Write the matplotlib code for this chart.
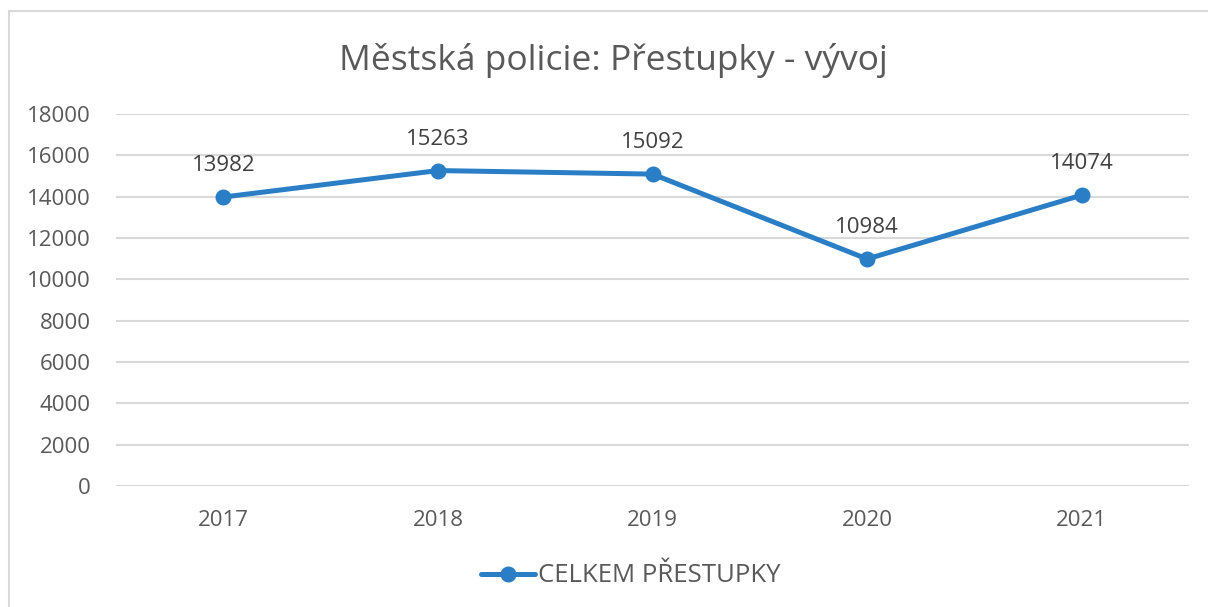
import matplotlib
matplotlib.use("Agg")
import matplotlib.pyplot as plt
from matplotlib.patches import Rectangle
from matplotlib.lines import Line2D

plt.rcParams['font.family'] = ['Open Sans', 'DejaVu Sans']

years = ["2017", "2018", "2019", "2020", "2021"]
prestupky = [13982, 15263, 15092, 10984, 14074]
y_ticks = [0, 2000, 4000, 6000, 8000, 10000, 12000, 14000, 16000, 18000]

title = "Městská policie: Přestupky - vývoj"
series_name = "CELKEM PŘESTUPKY"

line_color = "#2A7EC6"
text_color = "#595959"
grid_color = "#D9D9D9"

W, H = 1208, 607
fig = plt.figure(figsize=(W / 100, H / 100), dpi=100)

# outer chart frame (runs off the right and bottom edges)
fig.patches.append(Rectangle((8.5 / W, -0.1), 1.2, 1 - 10.5 / H + 0.1,
                             transform=fig.transFigure, fill=False,
                             edgecolor="#D9D9D9", linewidth=1.5))

ax = fig.add_axes([116 / W, 1 - 486 / H, (1189 - 116) / W, (486 - 114) / H])
x = list(range(len(years)))
ax.plot(x, prestupky, color=line_color, linewidth=3.6, marker="o",
        markersize=10.5, solid_capstyle="round", zorder=3)

for xi, v in zip(x, prestupky):
    ax.annotate(str(v), (xi, v), xytext=(0, 15), textcoords="offset points",
                ha="center", va="bottom", fontsize=16, color="#404040")

ax.set_xlim(-0.5, len(years) - 0.5)
ax.set_ylim(0, 18000)
ax.set_yticks(y_ticks)
ax.set_yticklabels([str(t) for t in y_ticks])
ax.set_xticks(x)
ax.set_xticklabels(years)
ax.tick_params(axis="both", length=0, labelsize=16, labelcolor=text_color)
ax.tick_params(axis="y", pad=18)
ax.tick_params(axis="x", pad=17)
ax.grid(axis="y", color=grid_color, linewidth=1.5)
ax.set_axisbelow(True)
for s in ax.spines.values():
    s.set_visible(False)

fig.text(613 / W, 1 - 60 / H, title, ha="center", va="center",
         fontsize=25.5, color=text_color)

handle = Line2D([], [], color=line_color, linewidth=3.6, marker="o",
                markersize=10.5, solid_capstyle="round")
fig.legend([handle], [series_name], loc="center", bbox_to_anchor=(631 / W, 1 - 576 / H),
           frameon=False, fontsize=18.5, labelcolor=text_color,
           handlelength=2.1, handletextpad=0.1)

fig.savefig("out.png", dpi=100, facecolor="white")
